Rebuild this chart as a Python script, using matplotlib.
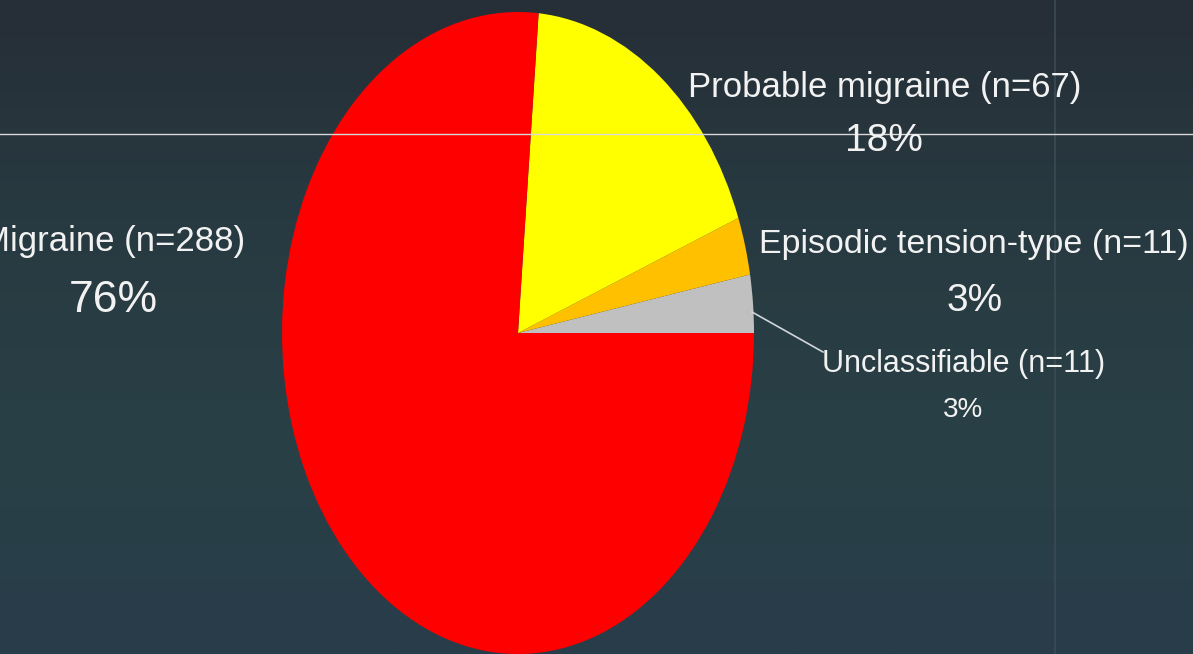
import numpy as np
import matplotlib
matplotlib.use("Agg")
import matplotlib.pyplot as plt
from matplotlib.colors import LinearSegmentedColormap

# data
labels = ["Unclassifiable", "Episodic tension-type", "Probable migraine", "Migraine"]
counts = [11, 11, 67, 288]
colors = ["#c0c0c0", "#ffc000", "#ffff00", "#ff0000"]

W, H = 1193, 654
DPI = 100
FONT = ["Liberation Sans Narrow", "Liberation Sans", "DejaVu Sans"]

fig = plt.figure(figsize=(W / DPI, H / DPI), dpi=DPI)

# background gradient
bg = fig.add_axes([0, 0, 1, 1])
bg.set_axis_off()
grad = LinearSegmentedColormap.from_list("bg", ["#262e37", "#283a41", "#294046", "#283d4a"])
bg.imshow(np.linspace(0, 1, 256).reshape(-1, 1), aspect="auto", cmap=grad,
          extent=[0, W, H, 0])
bg.set_xlim(0, W)
bg.set_ylim(H, 0)
# slide artefacts
bg.axvline(1055, color="#3b4b54", lw=1.2)

# pie (stretched vertically like the slide)
cx, cy, rx, ry = 518, 333, 236, 321
ax = fig.add_axes([(cx - rx) / W, (H - cy - ry) / H, 2 * rx / W, 2 * ry / H])
ax.pie(counts, colors=colors, startangle=0, counterclock=True,
       wedgeprops=dict(linewidth=0))
ax.set_aspect("auto")
ax.set_xlim(-1, 1)
ax.set_ylim(-1, 1)
ax.set_axis_off()

total = sum(counts)
pct = [round(100 * c / total) for c in counts]

ov = fig.add_axes([0, 0, 1, 1], facecolor="none")
ov.set_axis_off()
ov.set_xlim(0, W)
ov.set_ylim(H, 0)
ov.axhline(134, color="#d8d8d8", lw=1.0)

tc = "#f2f2f2"
# Migraine (cut at the left edge, as on the slide)
ov.text(113, 242, f"{labels[3]} (n={counts[3]})", ha="center", va="center",
        fontsize=25, color=tc, family=FONT)
ov.text(113, 301, f"{pct[3]}%", ha="center", va="center", fontsize=32, color=tc, family=FONT)
# Probable migraine
ov.text(885, 87, f"{labels[2]} (n={counts[2]})", ha="center", va="center",
        fontsize=25, color=tc, family=FONT)
ov.text(884, 141, f"{pct[2]}%", ha="center", va="center", fontsize=28, color=tc, family=FONT)
# Episodic tension-type
ov.text(974, 245, f"{labels[1]} (n={counts[1]})", ha="center", va="center",
        fontsize=24.5, color=tc, family=FONT)
ov.text(975, 301, f"{pct[1]}%", ha="center", va="center", fontsize=28, color=tc, family=FONT)
# Unclassifiable with leader line
ov.plot([752, 823], [312, 352], color="#cfd6da", lw=1.2)
ov.text(964, 364, f"{labels[0]} (n={counts[0]})", ha="center", va="center",
        fontsize=22, color=tc, family=FONT)
ov.text(963, 410, f"{pct[0]}%", ha="center", va="center", fontsize=20, color=tc, family=FONT)

fig.savefig("out.png", dpi=DPI)
